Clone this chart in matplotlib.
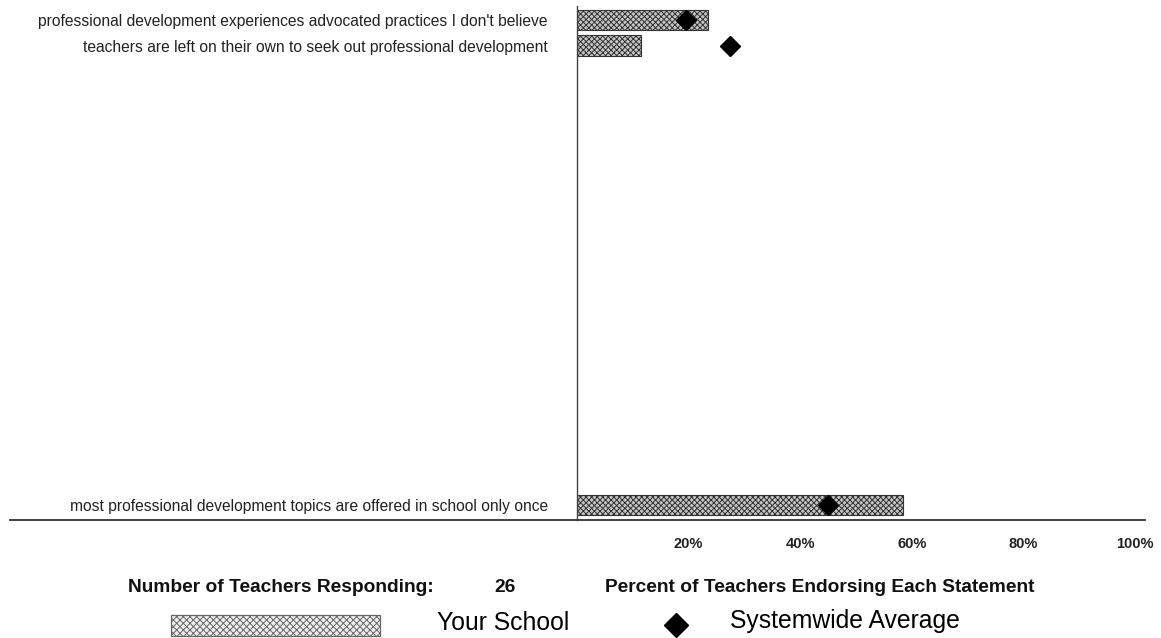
"""Teacher survey chart: school percentages vs systemwide average."""

import matplotlib

matplotlib.use("Agg")
import matplotlib.pyplot as plt
from matplotlib.lines import Line2D
from matplotlib.patches import Rectangle

plt.rcParams["font.family"] = ["Liberation Sans", "DejaVu Sans"]
plt.rcParams["hatch.linewidth"] = 0.7

statements = [
    "professional development experiences advocated practices I don't believe",
    "teachers are left on their own to seek out professional development",
    "most professional development topics are offered in school only once",
]
school_pct = [23.5, 11.5, 58.5]
system_pct = [19.5, 27.5, 45.0]
tick_values = [20, 40, 60, 80, 100]
tick_labels = ["20%", "40%", "60%", "80%", "100%"]
n_teachers = 26

# row slots on the category axis (most of the rows are empty in the original)
slots = [19, 18, 0]

W, H = 1161, 638
fig = plt.figure(figsize=(W / 100, H / 100), dpi=100)
ax = fig.add_axes([577 / W, 1 - 520 / H, (1145 - 577) / W, (520 - 6) / H])

ax.barh(slots, school_pct, height=0.8, color="#c4c4c4", edgecolor="#333333",
        hatch="xxxxxx", linewidth=0.8)
ax.plot(system_pct, slots, linestyle="none", marker="D", markersize=10,
        color="black", zorder=5)

ax.set_xlim(0, 101.8)
ax.set_ylim(-0.59, 19.55)
ax.set_yticks(slots)
ax.set_yticklabels(statements, fontsize=11.25, color="#222222")
ax.tick_params(axis="y", length=0, pad=21)
ax.set_xticks(tick_values)
ax.set_xticklabels(tick_labels, fontsize=10.5, fontweight="bold", color="#222222")
ax.tick_params(axis="x", length=0, pad=12)

for side in ["top", "right", "bottom"]:
    ax.spines[side].set_visible(False)
ax.spines["left"].set_color("#444444")
ax.spines["left"].set_linewidth(1.0)

# long baseline running under the labels too
fig.add_artist(Line2D([10 / W, 1145 / W], [1 - 520 / H, 1 - 520 / H],
                      color="#333333", linewidth=1.3))


def fy(y):
    return 1 - y / H


bold = dict(fontsize=13.75, fontweight="bold", color="#111111", va="center")
fig.text(128 / W, fy(587), "Number of Teachers Responding:", ha="left", **bold)
fig.text(505 / W, fy(587), str(n_teachers), ha="center", **bold)
fig.text(605 / W, fy(587), "Percent of Teachers Endorsing Each Statement", ha="left", **bold)

fig.add_artist(Rectangle((171 / W, fy(636)), (380 - 171) / W, 21 / H,
                         transform=fig.transFigure, facecolor="#eeeeee",
                         edgecolor="#666666", hatch="xxxxx", linewidth=0.9))
fig.text(437 / W, fy(623), "Your School", ha="left", va="center", fontsize=17.8)
fig.add_artist(Line2D([676 / W], [fy(625)], marker="D", markersize=12,
                      color="black", linestyle="none"))
fig.text(730 / W, fy(621), "Systemwide Average", ha="left", va="center", fontsize=17.8)

fig.savefig("out.png", dpi=100)
